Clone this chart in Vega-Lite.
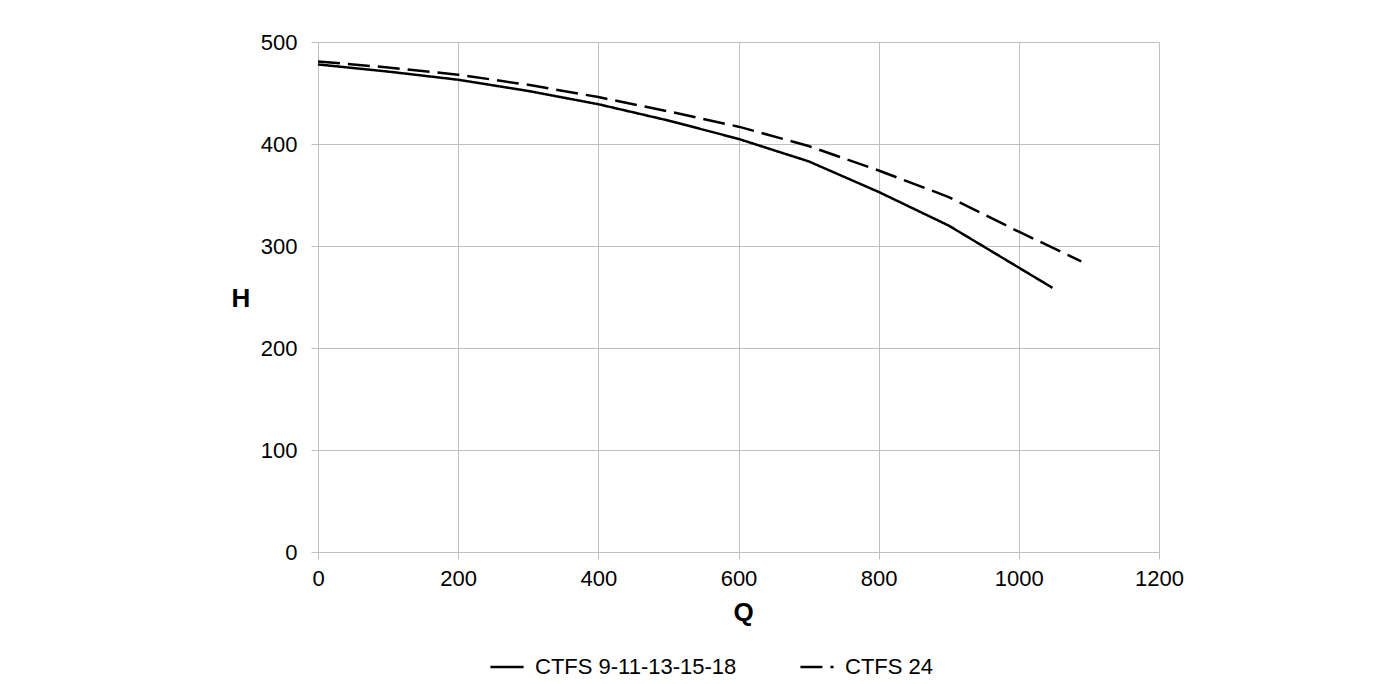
{
  "$schema": "https://vega.github.io/schema/vega-lite/v6.json",
  "width": 841,
  "height": 510,
  "autosize": {"type": "none"},
  "padding": {"left": 318, "top": 42, "right": 239, "bottom": 132},
  "background": "white",
  "config": {
    "view": {"stroke": null},
    "font": "Liberation Sans",
    "axis": {
      "gridColor": "#c0c0c0",
      "gridWidth": 1,
      "domainColor": "#c0c0c0",
      "tickColor": "#c0c0c0",
      "labelFont": "Liberation Sans",
      "labelFontSize": 22,
      "labelColor": "#000000",
      "labelFlush": false,
      "titleFont": "Liberation Sans",
      "titleFontSize": 26,
      "titleFontWeight": "bold",
      "titleColor": "#000000"
    }
  },
  "data": {
    "values": [
      {"Q": 0, "H": 478, "series": "CTFS 9-11-13-15-18"},
      {"Q": 100, "H": 471, "series": "CTFS 9-11-13-15-18"},
      {"Q": 200, "H": 463, "series": "CTFS 9-11-13-15-18"},
      {"Q": 300, "H": 452, "series": "CTFS 9-11-13-15-18"},
      {"Q": 400, "H": 439, "series": "CTFS 9-11-13-15-18"},
      {"Q": 500, "H": 423, "series": "CTFS 9-11-13-15-18"},
      {"Q": 600, "H": 405, "series": "CTFS 9-11-13-15-18"},
      {"Q": 700, "H": 383, "series": "CTFS 9-11-13-15-18"},
      {"Q": 800, "H": 353, "series": "CTFS 9-11-13-15-18"},
      {"Q": 900, "H": 320, "series": "CTFS 9-11-13-15-18"},
      {"Q": 1048, "H": 259, "series": "CTFS 9-11-13-15-18"},
      {"Q": 0, "H": 481, "series": "CTFS 24"},
      {"Q": 100, "H": 475, "series": "CTFS 24"},
      {"Q": 200, "H": 468, "series": "CTFS 24"},
      {"Q": 300, "H": 458, "series": "CTFS 24"},
      {"Q": 400, "H": 446, "series": "CTFS 24"},
      {"Q": 500, "H": 432, "series": "CTFS 24"},
      {"Q": 600, "H": 417, "series": "CTFS 24"},
      {"Q": 700, "H": 398, "series": "CTFS 24"},
      {"Q": 800, "H": 374, "series": "CTFS 24"},
      {"Q": 900, "H": 348, "series": "CTFS 24"},
      {"Q": 1000, "H": 314, "series": "CTFS 24"},
      {"Q": 1089, "H": 285, "series": "CTFS 24"}
    ]
  },
  "mark": {"type": "line", "color": "#000000", "strokeWidth": 2.5},
  "encoding": {
    "x": {
      "field": "Q",
      "type": "quantitative",
      "scale": {"domain": [0, 1200], "nice": false},
      "axis": {
        "values": [0, 200, 400, 600, 800, 1000, 1200],
        "format": "d",
        "tickSize": 7,
        "labelPadding": 9,
        "title": "Q",
        "titleX": 425,
        "titleY": 60,
        "titleAlign": "center",
        "titleBaseline": "middle"
      }
    },
    "y": {
      "field": "H",
      "type": "quantitative",
      "scale": {"domain": [0, 500], "nice": false},
      "axis": {
        "values": [0, 100, 200, 300, 400, 500],
        "format": "d",
        "tickSize": 7,
        "labelPadding": 14,
        "title": "H",
        "titleAngle": 0,
        "titleX": -77.5,
        "titleY": 256,
        "titleAlign": "center",
        "titleBaseline": "middle"
      }
    },
    "strokeDash": {
      "field": "series",
      "type": "nominal",
      "sort": ["CTFS 9-11-13-15-18", "CTFS 24"],
      "scale": {"domain": ["CTFS 9-11-13-15-18", "CTFS 24"], "range": [[1, 0], [22, 8]]},
      "legend": {
        "title": null,
        "orient": "none",
        "direction": "horizontal",
        "legendX": 171,
        "legendY": 607,
        "symbolType": "stroke",
        "symbolSize": 1100,
        "symbolStrokeWidth": 2.5,
        "symbolStrokeColor": "#000000",
        "labelFont": "Liberation Sans",
        "labelFontSize": 22,
        "labelColor": "#000000",
        "labelOffset": 10,
        "columnPadding": 58,
        "labelLimit": 400
      }
    }
  }
}
